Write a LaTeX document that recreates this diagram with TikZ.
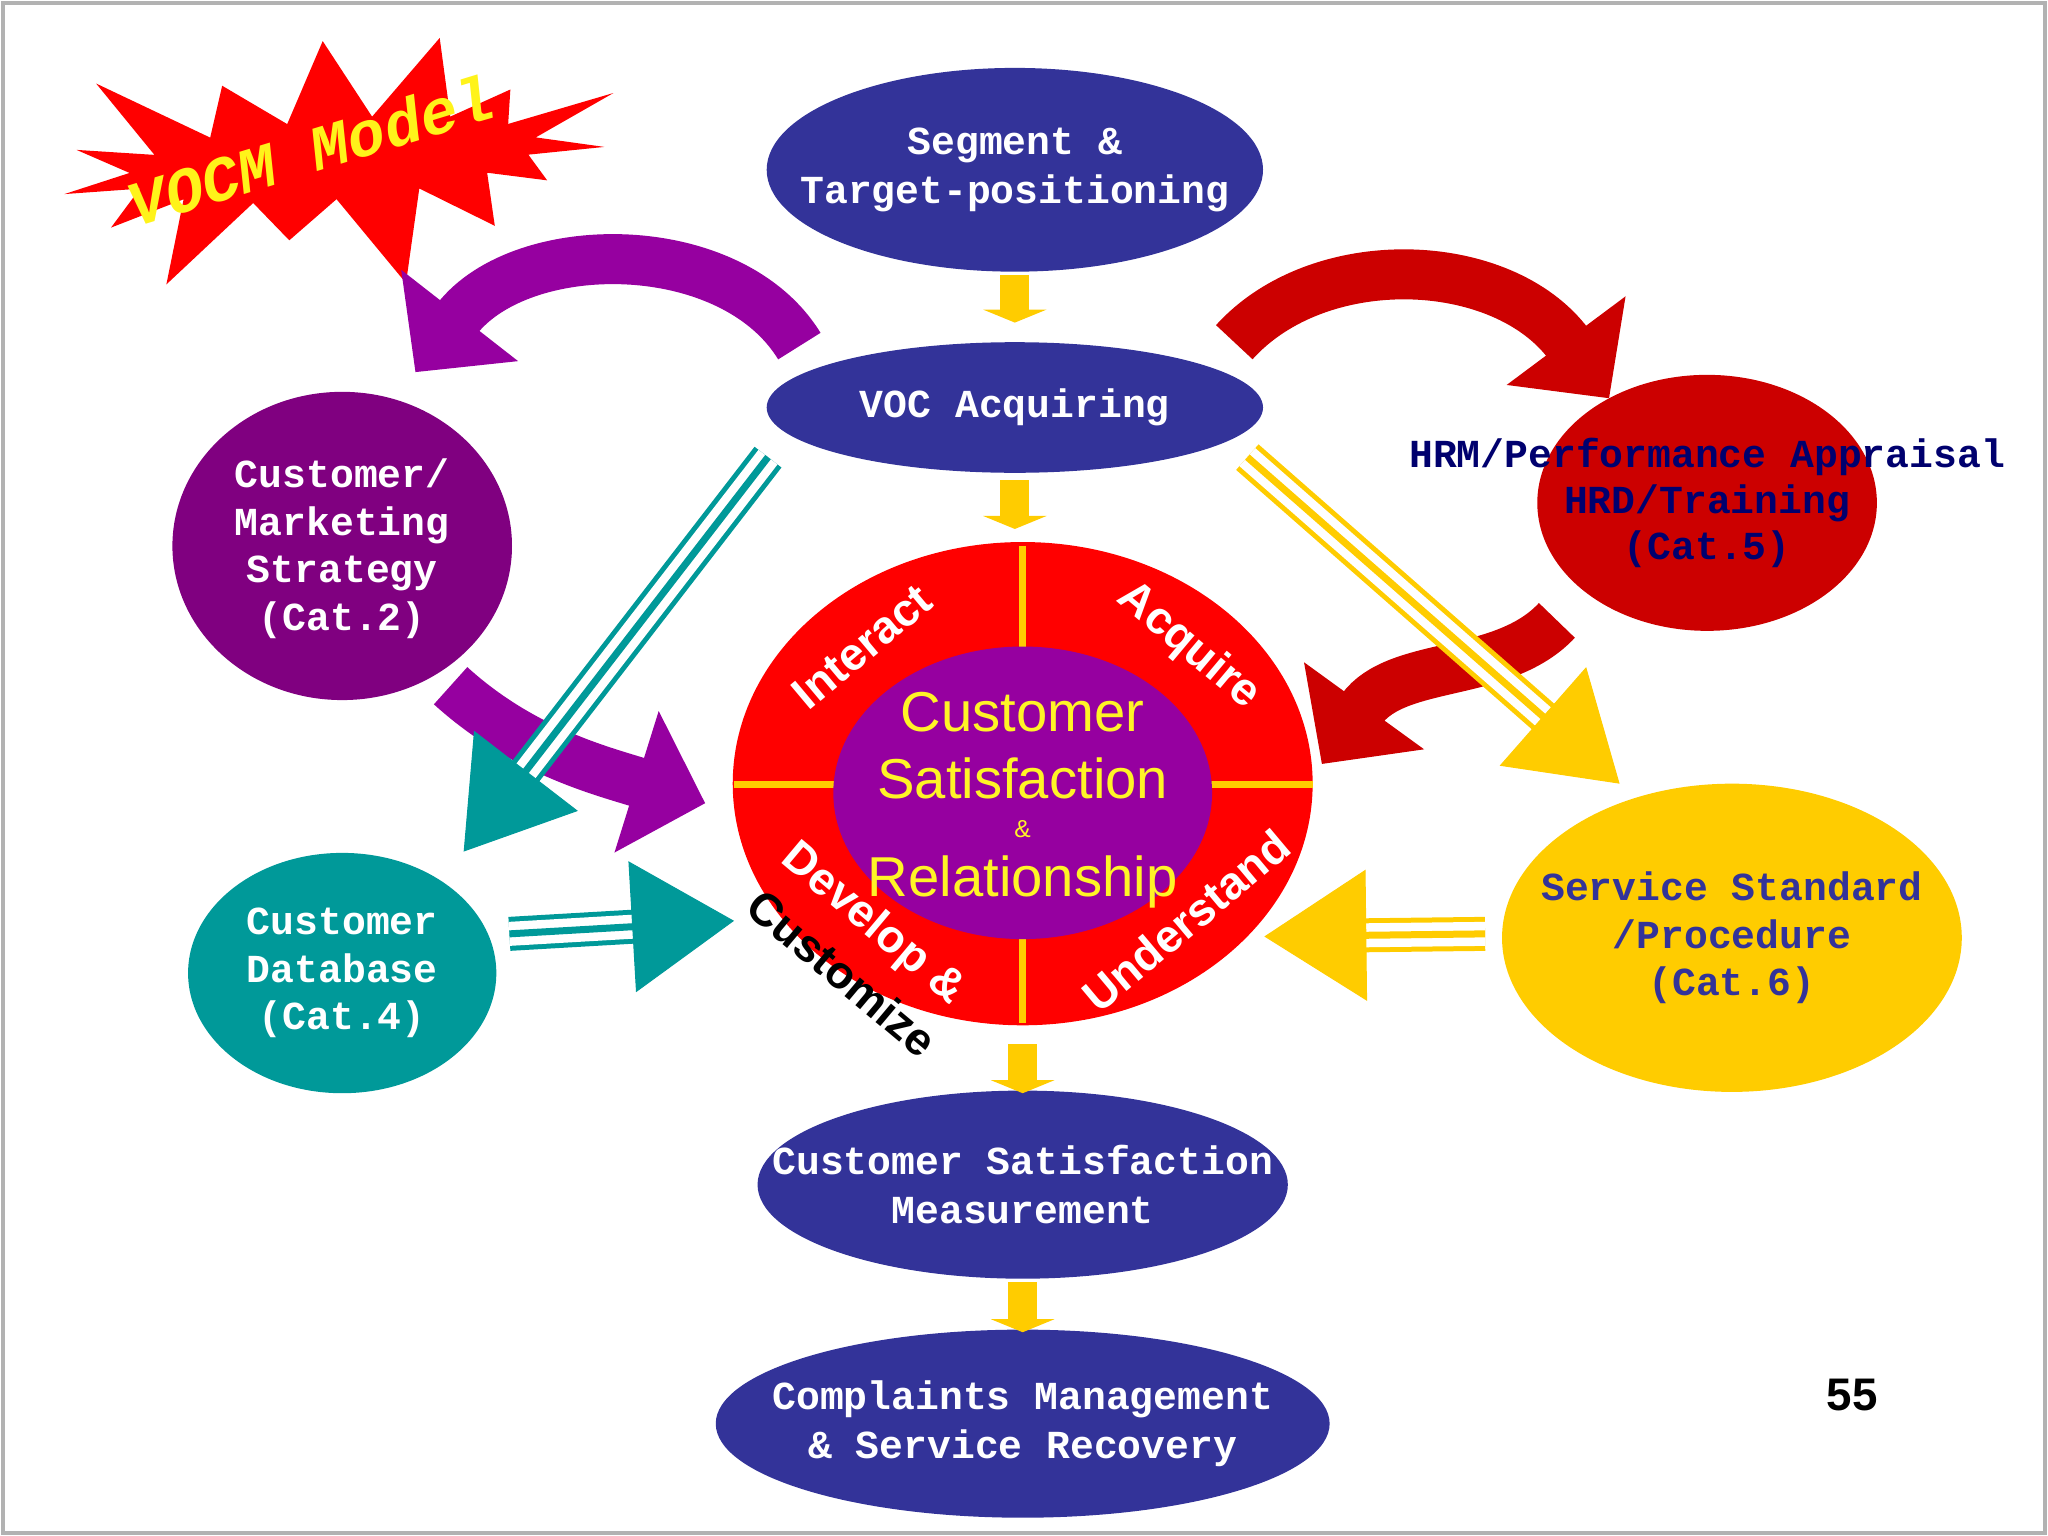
\documentclass[tikz,border=0pt]{standalone}
\usepackage{fontspec}
\setmainfont{Liberation Sans}
\newfontfamily\slab{Liberation Mono}
\usetikzlibrary{positioning,arrows.meta,shapes.symbols,shapes.geometric,calc}
\definecolor{navy}{RGB}{51,51,153}
\definecolor{vio}{RGB}{128,0,128}
\definecolor{vio2}{RGB}{150,0,160}
\definecolor{tealc}{RGB}{0,153,153}
\definecolor{redc}{RGB}{204,0,0}
\definecolor{gold}{RGB}{255,204,0}
\definecolor{ink}{RGB}{0,0,110}
\def\u{0.01306cm}
\begin{document}
\begin{tikzpicture}[x=0.01306cm,y=-0.01306cm,
  blob/.style={ellipse,inner sep=0pt},
  txt/.style={align=center,inner sep=0pt,font=\slab\bfseries\fontsize{11.3}{13.8}\selectfont},
  dark/.style={blob,fill=navy},
  down/.style={-{Triangle[length=0.13cm,width=0.63cm]},line width=0.29cm,gold},
  curl/.style={line width=0.5cm,-{Triangle[length=0.72cm,width=1.44cm]}},
  big/.style={text=yellow!85!white,font=\fontsize{16}{18}\selectfont},
  wedge/.style={white,font=\bfseries\fontsize{13}{15}\selectfont}]
\useasboundingbox (0,0) rectangle (1568,1176);
\draw[gray!60,line width=0.04cm] (2,2) rectangle (1566,1174);
% burst
\node[starburst,starburst points=15,starburst point height=1.1cm,fill=red,minimum width=6.3cm,minimum height=3cm,rotate=5] (burst) at (255,122) {};
\node[rotate=17,text=yellow!90!white,font=\bfseries\itshape\slab\fontsize{18}{20}\selectfont] at (238,115) {VOCM Model};
% main column
\node[dark,minimum width=380*\u,minimum height=156*\u] (seg) at (777,130) {};
\node[txt,text=white] at (seg) {Segment \&\\Target-positioning};
\node[dark,minimum width=380*\u,minimum height=100*\u] (voc) at (777,312) {};
\node[txt,text=white] at (voc) {VOC Acquiring};
\node[blob,fill=red,minimum width=444*\u,minimum height=370*\u] (csr) at (783,600) {};
\draw[gold,line width=0.07cm] (783,418) -- (783,783) (562,601) -- (1005,601);
\node[blob,fill=vio2,minimum width=290*\u,minimum height=224*\u] (core) at (783,607) {};
\node[big] at (783,545) {Customer};
\node[big] at (783,596) {Satisfaction};
\node[big,font=\fontsize{7}{8}\selectfont] at (783,635) {\&};
\node[big] at (783,675) {Relationship};
\node[wedge,rotate=40] at (660,495) {Interact};
\node[wedge,rotate=-40] at (910,495) {Acquire};
\node[wedge,rotate=40] at (908,705) {Understand};
\node[wedge,rotate=-40] at (668,708) {Develop \&};
\node[rotate=-40,font=\bfseries\fontsize{13}{15}\selectfont] at (645,745) {Customize};
\node[dark,minimum width=406*\u,minimum height=144*\u] (csm) at (783,907) {};
\node[txt,text=white] at (csm) {Customer Satisfaction\\Measurement};
\node[dark,minimum width=470*\u,minimum height=144*\u] (cmp) at (783,1090) {};
\node[txt,text=white] at (cmp) {Complaints Management\\\& Service Recovery};
% side blobs
\node[blob,fill=vio,minimum width=260*\u,minimum height=236*\u] (mkt) at (262,418) {};
\node[txt,text=white,font=\slab\bfseries\fontsize{11.3}{13.5}\selectfont] at (262,420) {Customer/\\Marketing\\Strategy\\(Cat.2)};
\node[blob,fill=tealc,minimum width=236*\u,minimum height=184*\u] (db) at (262,745) {};
\node[txt,text=white,font=\slab\bfseries\fontsize{11.3}{13.5}\selectfont] at (db) {Customer\\Database\\(Cat.4)};
\node[blob,fill=redc,minimum width=260*\u,minimum height=196*\u] (hrm) at (1307,385) {};
\node[txt,text=ink,font=\slab\bfseries\fontsize{11.3}{13}\selectfont] at (1307,385) {HRM/Performance Appraisal\\HRD/Training\\(Cat.5)};
\node[blob,fill=gold,minimum width=352*\u,minimum height=236*\u] (svc) at (1326,718) {};
\node[txt,text=navy,font=\slab\bfseries\fontsize{11.3}{13.5}\selectfont] at (svc) {Service Standard\\/Procedure\\(Cat.6)};
\node[font=\bfseries\fontsize{13}{15}\selectfont] (pg) at (1418,1068) {55};
% down arrows
\draw[down] (seg.south) ++(0,2) coordinate (s1) -- (777,247);
\draw[down] (voc.south) ++(0,5) coordinate (s2) -- (777,405);
\draw[down] (csr.south) ++(0,14) coordinate (s3) -- (783,837);
\draw[down] (csm.south) ++(0,2) coordinate (s4) -- (783,1020);
% curved arrows
\coordinate (p1) at (612,265); \coordinate (p2) at (318,285);
\draw[curl,vio2] (p1) .. controls (560,180) and (400,180) .. (p2);
\coordinate (r1) at (945,262); \coordinate (r2) at (1232,305);
\draw[curl,redc] (r1) .. controls (1010,190) and (1150,195) .. (r2);
\coordinate (m1) at (345,525); \coordinate (m2) at (540,615);
\draw[curl,vio2] (m1) .. controls (400,575) and (460,590) .. (m2);
\coordinate (h1) at (1192,475); \coordinate (h2) at (1012,585);
\draw[curl,redc] (h1) .. controls (1150,520) and (1070,505) .. (h2);
% triple arrows
\coordinate (t1) at (588,350); \coordinate (t2) at (355,652);
\coordinate (y1) at (955,350); \coordinate (y2) at (1240,600);
\coordinate (d1) at (390,715); \coordinate (d2) at (562,705);
\coordinate (f1) at (1137,715); \coordinate (f2) at (968,717);
\foreach \a/\b/\c in {t1/t2/tealc,y1/y2/gold,d1/d2/tealc,f1/f2/gold}{
  \draw[\c,line width=0.34cm,shorten >=0.78cm] (\a) -- (\b);
  \draw[white,line width=0.24cm,shorten >=0.76cm] (\a) -- (\b);
  \draw[\c,line width=0.07cm,shorten >=0.76cm] (\a) -- (\b);
  \draw[\c,line width=0.01cm,-{Triangle[length=1.02cm,width=1.31cm]}] ($(\a)!0.85!(\b)$) -- (\b);
}
\end{tikzpicture}
\end{document}
